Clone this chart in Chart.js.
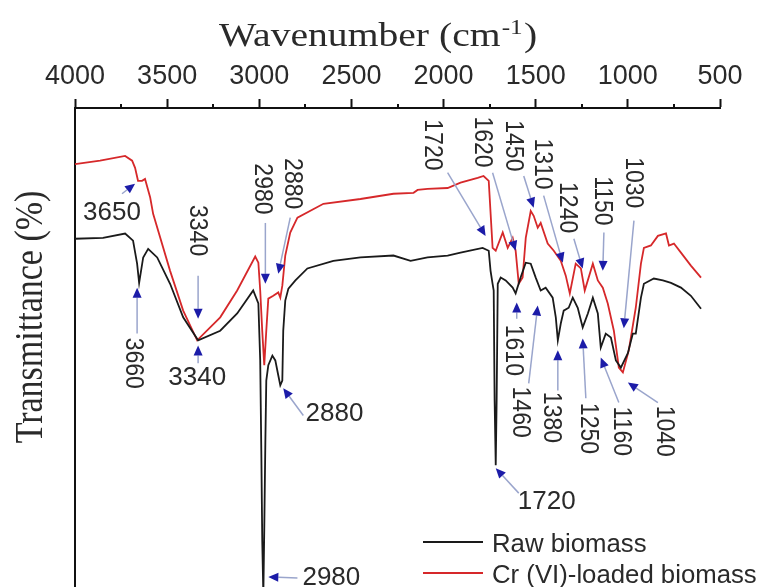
<!DOCTYPE html>
<html><head><meta charset="utf-8">
<script src="https://cdn.jsdelivr.net/npm/chart.js@4.4.1/dist/chart.umd.min.js"></script>
<style>html,body{margin:0;padding:0;background:#fff}#wrap{width:772px;height:587px;position:relative}</style>
</head><body><div id="wrap"><canvas id="c" width="772" height="587"></canvas></div>
<script>
// ---- data (wavenumber in cm-1, transmittance in arbitrary % units) ----
const rawWavenumber = [4000,3848,3728,3685,3663,3652,3630,3603,3554,3484,3413,3332,3212,3120,3033,3005,2995,2989,2984,2978,2973,2967,2962,2951,2929,2913,2897,2886,2875,2870,2859,2842,2804,2739,2598,2451,2272,2179,2087,1978,1908,1788,1755,1745,1734,1728,1723,1717,1712,1706,1690,1663,1625,1609,1582,1554,1527,1500,1473,1446,1408,1391,1380,1364,1348,1321,1299,1272,1245,1217,1190,1163,1147,1120,1092,1065,1038,1000,973,957,929,913,859,810,766,712,658,603];
const rawTransmittance = [72.7,72.9,73.8,72.3,67.5,63.5,68.8,70.6,68.8,63.3,56.3,51.5,53.5,57.1,61.9,59.2,47.3,28.5,9.8,-1.7,11.9,30.6,43.1,46.3,48.3,47.3,44.2,42.1,43.1,53.5,59.8,62.3,64.0,66.5,68.1,68.8,69.2,68.1,68.8,69.2,69.8,70.8,70.2,66.0,63.3,61.9,39.0,25.4,39.0,63.3,64.6,64.0,62.5,61.3,64.6,67.7,67.5,64.6,61.9,62.5,60.4,56.3,51.5,55.0,57.7,58.3,60.4,58.3,54.2,57.1,60.4,57.1,50.0,52.9,52.1,47.3,45.8,48.8,52.9,52.9,60.4,63.3,64.4,64.0,63.5,62.5,60.8,58.1];
const crWavenumber = [4000,3864,3728,3690,3674,3658,3636,3620,3592,3576,3484,3413,3337,3212,3120,3022,3005,2995,2984,2973,2962,2951,2924,2897,2886,2875,2859,2832,2793,2652,2451,2272,2163,2141,2087,1978,1908,1815,1783,1755,1734,1717,1679,1652,1625,1609,1592,1571,1554,1527,1511,1489,1473,1435,1402,1364,1337,1315,1283,1255,1234,1190,1163,1136,1109,1076,1049,1027,995,957,929,913,875,837,793,777,750,712,658,603];
const crTransmittance = [88.3,89.0,90.0,89.0,87.5,84.8,84.8,85.2,81.3,77.9,66.0,57.7,51.5,56.3,61.9,69.0,67.7,61.9,53.5,46.3,53.5,60.2,60.8,61.5,60.4,62.9,69.2,74.0,77.1,80.0,81.0,82.1,82.3,82.9,83.1,83.3,84.4,85.4,85.8,84.8,70.8,70.2,74.0,70.8,72.9,70.2,63.3,64.6,72.9,78.5,77.5,75.0,76.0,71.7,70.2,68.1,65.0,61.3,67.5,66.5,61.9,67.5,64.0,62.5,59.2,53.5,45.8,44.8,49.4,58.3,67.5,70.8,71.3,73.3,73.8,71.3,71.7,69.8,67.1,64.6];
const xTickValues = [4000,3500,3000,2500,2000,1500,1000,500];
const minorTickValues = [3750,3250,2750,2250,1750,1250,750];
const seriesNames = ['Raw biomass','Cr (VI)-loaded biomass'];
const xTitle = ['Wavenumber (cm', '-1', ')'];
const yTitle = 'Transmittance (%)';
// peak notes: [text, tip wn, tip T, tail wn, tail T, label wn, label T, vertical]
const peakNotes = [
 ['3650',3674,84.2,3745,82.1,3799,78.1,false],
 ['3340',3332,56.0,3332,65.0,3337,74.4,true],
 ['2980',2967,63.3,2967,76.0,2984,83.1,true],
 ['2880',2897,65.4,2832,77.1,2821,84.2,true],
 ['1720',1772,73.3,1978,86.5,2060,92.3,true],
 ['1620',1609,70.2,1734,86.5,1788,92.9,true],
 ['1450',1511,79.2,1565,85.8,1620,92.1,true],
 ['1310',1353,67.7,1457,81.7,1467,88.3,true],
 ['1240',1245,66.5,1293,72.7,1326,79.2,true],
 ['1150',1136,66.0,1130,74.0,1141,80.6,true],
 ['1030',1022,54.0,967,76.5,973,84.4,true],
 ['3660',3663,62.5,3663,52.9,3685,46.7,true],
 ['3340',3332,50.4,3332,46.7,3337,43.75,false],
 ['2880',2870,41.5,2761,35.8,2592,36.25,false],
 ['2980',2951,2.1,2793,1.9,2609,1.9,false],
 ['1720',1717,24.8,1592,19.6,1440,17.7,false],
 ['1610',1603,59.4,1603,56.0,1620,49.4,true],
 ['1460',1489,58.75,1538,42.5,1582,36.5,true],
 ['1380',1380,49.4,1380,41.0,1418,35.4,true],
 ['1250',1245,51.9,1228,39.4,1217,33.1,true],
 ['1160',1147,47.9,1049,38.5,1033,32.5,true],
 ['1040',1000,42.7,837,38.5,804,32.5,true]
];

const toPoints = (xs, ys) => xs.map((x, i) => ({x: x, y: ys[i]}));
const TEXT = '#2a2a2a';

function drawText(ctx, text, x, y, sx, rot, font, align, baseline) {
  ctx.save();
  ctx.translate(x, y);
  ctx.scale(sx, 1);
  if (rot) ctx.rotate(rot);
  ctx.font = font; ctx.textAlign = align; ctx.textBaseline = baseline;
  ctx.fillStyle = TEXT;
  ctx.fillText(text, 0, 0);
  ctx.restore();
}

const overlay = {
  id: 'overlay',
  afterDraw(chart) {
    const ctx = chart.ctx, xs = chart.scales.x, ys = chart.scales.y;
    const top = chart.chartArea.top;
    // minor ticks
    ctx.save();
    ctx.strokeStyle = '#111'; ctx.lineWidth = 2;
    minorTickValues.forEach(v => {
      const px = Math.round(xs.getPixelForValue(v));
      ctx.beginPath(); ctx.moveTo(px, top); ctx.lineTo(px, top - 4); ctx.stroke();
    });
    ctx.restore();

    // x title with superscript
    ctx.save();
    const sx = 1.2;
    ctx.translate(378, 46); ctx.scale(sx, 1);
    ctx.fillStyle = TEXT; ctx.textBaseline = 'alphabetic'; ctx.textAlign = 'left';
    const fMain = '33px "Liberation Serif"', fSup = '21px "Liberation Serif"';
    ctx.font = fMain; const w1 = ctx.measureText(xTitle[0]).width, w3 = ctx.measureText(xTitle[2]).width;
    ctx.font = fSup; const w2 = ctx.measureText(xTitle[1]).width;
    let cx = -(w1 + w2 + w3 + 2) / 2;
    ctx.font = fMain; ctx.fillText(xTitle[0], cx, 0); cx += w1 + 1;
    ctx.font = fSup; ctx.fillText(xTitle[1], cx, -12); cx += w2 + 1;
    ctx.font = fMain; ctx.fillText(xTitle[2], cx, 0);
    ctx.restore();

    // y title
    drawText(ctx, yTitle, 42, 317, 1.15, -Math.PI / 2, '34px "Liberation Serif"', 'center', 'alphabetic');

    // peak notes
    peakNotes.forEach(n => {
      const tx = xs.getPixelForValue(n[1]), ty = ys.getPixelForValue(n[2]);
      const ax = xs.getPixelForValue(n[3]), ay = ys.getPixelForValue(n[4]);
      const lx = xs.getPixelForValue(n[5]), ly = ys.getPixelForValue(n[6]);
      const ang = Math.atan2(ty - ay, tx - ax);
      const hl = 10, hw = 4.5;
      const bx = tx - hl * Math.cos(ang), by = ty - hl * Math.sin(ang);
      ctx.save();
      ctx.strokeStyle = '#9aa5cc'; ctx.lineWidth = 1.5;
      ctx.beginPath(); ctx.moveTo(ax, ay); ctx.lineTo(bx, by); ctx.stroke();
      ctx.fillStyle = '#1c1ca8';
      ctx.beginPath();
      ctx.moveTo(tx, ty);
      ctx.lineTo(bx + hw * Math.sin(ang), by - hw * Math.cos(ang));
      ctx.lineTo(bx - hw * Math.sin(ang), by + hw * Math.cos(ang));
      ctx.closePath(); ctx.fill();
      ctx.restore();
      if (n[7]) drawText(ctx, n[0], lx, ly, 1.15, Math.PI / 2, '23px "Liberation Sans"', 'center', 'middle');
      else drawText(ctx, n[0], lx, ly, 1.0, 0, '26px "Liberation Sans"', 'center', 'middle');
    });

    // legend
    chart.data.datasets.forEach((ds, i) => {
      const y = 542 + i * 31;
      ctx.save();
      ctx.strokeStyle = ds.borderColor; ctx.lineWidth = 2;
      ctx.beginPath(); ctx.moveTo(423, y); ctx.lineTo(483, y); ctx.stroke();
      ctx.restore();
      drawText(ctx, ds.label, 492, y + 10, 1.03, 0, '25px "Liberation Sans"', 'left', 'alphabetic');
    });
  }
};

new Chart(document.getElementById('c'), {
  type: 'line',
  data: {
    datasets: [
      {label: seriesNames[0], data: toPoints(rawWavenumber, rawTransmittance), borderColor: '#1a1a1a', borderWidth: 1.8, pointRadius: 0, tension: 0},
      {label: seriesNames[1], data: toPoints(crWavenumber, crTransmittance), borderColor: '#d6282a', borderWidth: 1.8, pointRadius: 0, tension: 0}
    ]
  },
  options: {
    responsive: false, animation: false, devicePixelRatio: 1,
    layout: {padding: {left: 0, right: 52, top: 0, bottom: 0}},
    plugins: {legend: {display: false}, tooltip: {enabled: false}},
    scales: {
      x: {
        type: 'linear', position: 'top', reverse: true, min: 500, max: 4000,
        afterBuildTicks: s => { s.ticks = xTickValues.map(v => ({value: v})); },
        afterFit: s => { s.height = 108; },
        ticks: {color: TEXT, font: {family: 'Liberation Sans', size: 27}, padding: 6, maxRotation: 0, autoSkip: false, callback: v => String(v)},
        grid: {display: true, drawOnChartArea: false, drawTicks: true, tickLength: 9, tickWidth: 2, tickColor: '#111'},
        border: {display: true, width: 2, color: '#111'}
      },
      y: {
        type: 'linear', min: 0, max: 100,
        afterFit: s => { s.width = 75; },
        ticks: {display: false},
        grid: {display: true, drawOnChartArea: false, drawTicks: false},
        border: {display: true, width: 2, color: '#111'}
      }
    }
  },
  plugins: [overlay]
});
</script></body></html>
